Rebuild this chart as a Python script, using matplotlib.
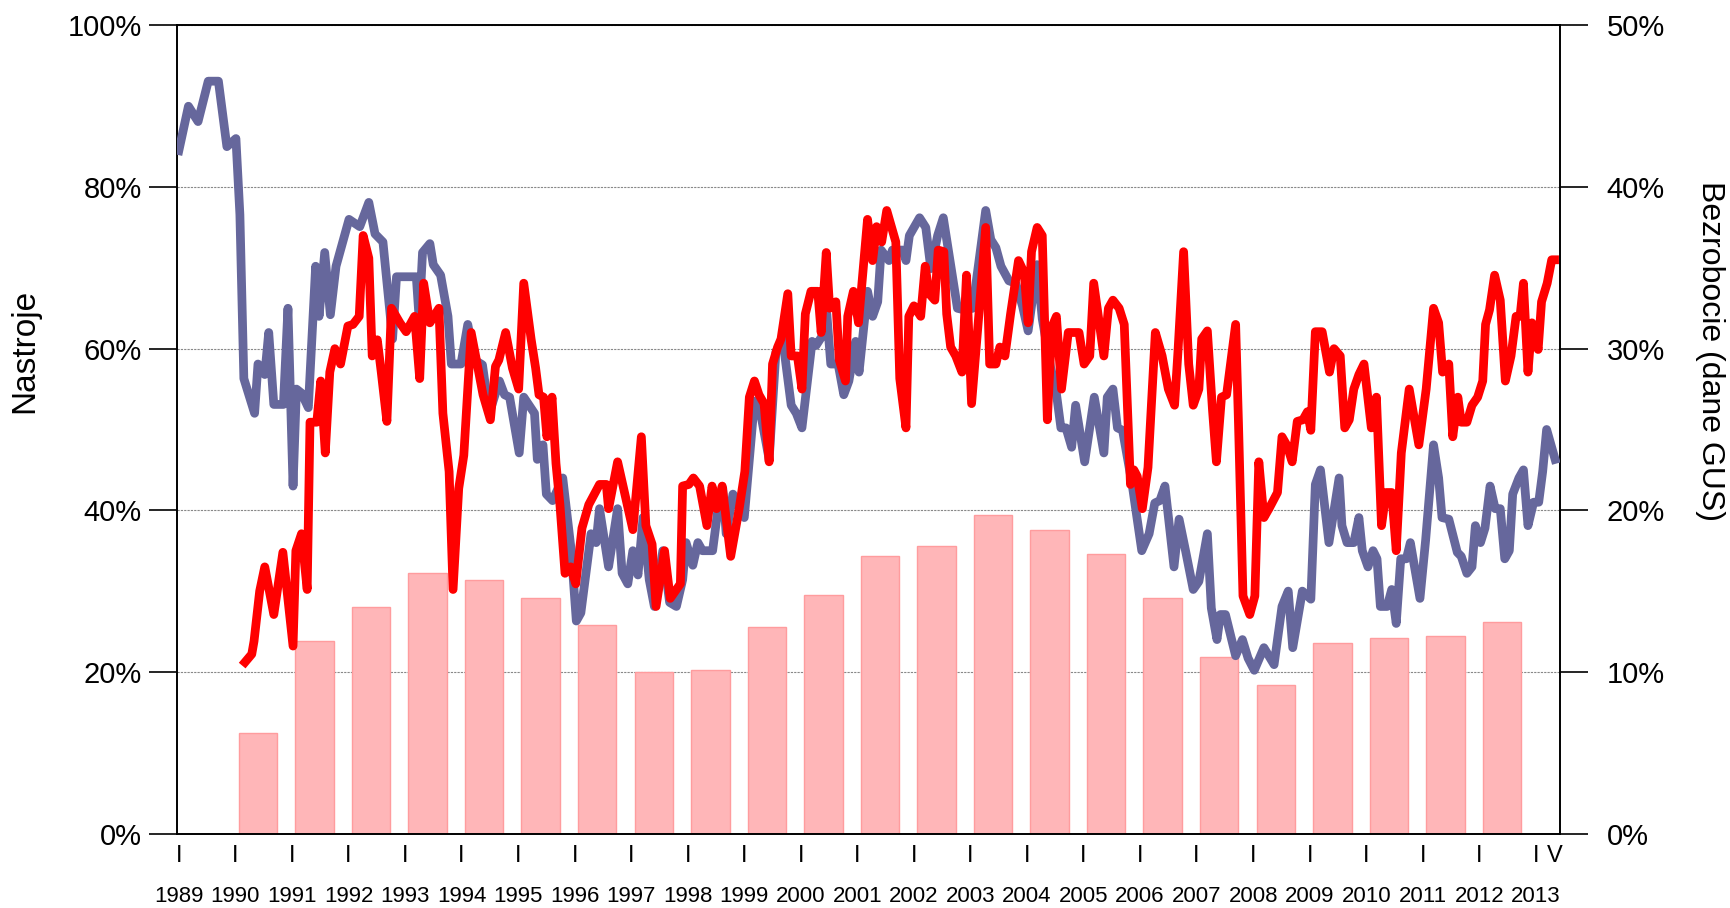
import matplotlib
matplotlib.use("Agg")
import matplotlib.pyplot as plt

# blue line (decimal year, %)
blue_t = [1989.00, 1989.17, 1989.34, 1989.52, 1989.70, 1989.85, 1990.01, 1990.08, 1990.15, 1990.34,
          1990.40, 1990.52, 1990.59, 1990.68, 1990.85, 1990.93, 1991.02, 1991.08, 1991.17, 1991.29,
          1991.42, 1991.48, 1991.58, 1991.68, 1991.78, 1992.01, 1992.20, 1992.36, 1992.47, 1992.61,
          1992.78, 1992.85, 1993.08, 1993.20, 1993.25, 1993.31, 1993.44, 1993.50, 1993.63, 1993.76,
          1993.82, 1993.99, 1994.11, 1994.23, 1994.37, 1994.49, 1994.67, 1994.76, 1994.85, 1995.02,
          1995.10, 1995.29, 1995.34, 1995.44, 1995.50, 1995.61, 1995.79, 1995.94, 1996.03, 1996.11,
          1996.29, 1996.38, 1996.44, 1996.60, 1996.76, 1996.84, 1996.94, 1997.03, 1997.12, 1997.21,
          1997.32, 1997.41, 1997.56, 1997.68, 1997.80, 1997.91, 1997.97, 1998.09, 1998.18, 1998.26,
          1998.44, 1998.53, 1998.62, 1998.68, 1998.80, 1998.90, 1999.00, 1999.18, 1999.27, 1999.44,
          1999.56, 1999.68, 1999.83, 1999.92, 2000.02, 2000.20, 2000.27, 2000.39, 2000.46, 2000.53,
          2000.66, 2000.76, 2000.85, 2000.97, 2001.03, 2001.18, 2001.27, 2001.36, 2001.42, 2001.56,
          2001.62, 2001.80, 2001.86, 2001.92, 2002.10, 2002.21, 2002.30, 2002.42, 2002.52, 2002.65,
          2002.77, 2002.89, 2003.04, 2003.27, 2003.36, 2003.45, 2003.54, 2003.68, 2003.80, 2003.92,
          2004.02, 2004.18, 2004.27, 2004.42, 2004.51, 2004.60, 2004.69, 2004.79, 2004.86, 2005.02,
          2005.19, 2005.36, 2005.42, 2005.52, 2005.60, 2005.69, 2005.86, 2006.03, 2006.16, 2006.26,
          2006.35, 2006.44, 2006.60, 2006.69, 2006.81, 2006.94, 2007.04, 2007.19, 2007.26, 2007.36,
          2007.42, 2007.51, 2007.69, 2007.81, 2007.91, 2008.02, 2008.19, 2008.37, 2008.51, 2008.62,
          2008.70, 2008.87, 2009.02, 2009.10, 2009.19, 2009.34, 2009.52, 2009.57, 2009.66, 2009.78,
          2009.87, 2009.93, 2010.03, 2010.12, 2010.19, 2010.25, 2010.37, 2010.45, 2010.53, 2010.61,
          2010.71, 2010.78, 2010.95, 2011.05, 2011.19, 2011.28, 2011.34, 2011.46, 2011.61, 2011.68,
          2011.78, 2011.87, 2011.93, 2012.02, 2012.10, 2012.19, 2012.28, 2012.37, 2012.45, 2012.53,
          2012.59, 2012.70, 2012.78, 2012.86, 2012.96, 2013.05, 2013.12, 2013.19, 2013.34]
blue_v = [84.5, 90.0, 88.1, 93.1, 93.1, 85.0, 86.0, 76.6, 56.3, 52.0,
          58.1, 56.8, 62.0, 53.1, 53.1, 65.0, 43.0, 55.0, 54.5, 52.7,
          70.2, 64.0, 71.9, 64.2, 70.2, 76.0, 75.1, 78.1, 74.2, 73.2,
          61.2, 68.9, 68.9, 68.9, 63.7, 71.9, 73.0, 70.4, 69.1, 64.0,
          58.1, 58.1, 63.0, 58.6, 58.0, 52.0, 56.0, 54.3, 54.0, 47.1,
          54.0, 52.0, 46.3, 48.1, 42.0, 41.2, 44.0, 35.0, 26.3, 27.3,
          37.1, 36.0, 40.2, 33.0, 40.2, 32.2, 30.9, 35.0, 32.0, 39.1,
          31.4, 28.1, 35.0, 28.6, 28.1, 31.4, 36.0, 33.2, 36.0, 35.0,
          35.0, 39.9, 42.7, 37.1, 42.0, 40.5, 39.1, 53.5, 52.7, 46.3,
          59.6, 61.2, 53.0, 52.0, 50.2, 60.9, 60.4, 61.7, 64.3, 58.1,
          58.1, 54.3, 56.0, 60.9, 57.1, 67.1, 64.0, 65.8, 72.2, 70.9,
          72.2, 72.2, 70.9, 74.0, 76.2, 75.0, 69.9, 74.0, 76.2, 70.4,
          65.0, 64.8, 65.0, 77.1, 73.5, 72.5, 70.2, 68.4, 68.1, 65.3,
          62.2, 70.4, 63.7, 57.6, 55.0, 50.2, 50.2, 47.8, 53.0, 46.0,
          54.0, 47.1, 54.0, 55.0, 50.2, 49.9, 43.2, 35.0, 37.1, 40.9,
          41.2, 43.0, 33.0, 38.9, 34.8, 30.2, 31.2, 37.1, 27.9, 24.0,
          27.1, 27.1, 22.0, 24.0, 21.7, 20.2, 23.0, 20.9, 28.1, 30.0,
          23.0, 30.0, 29.0, 43.2, 45.0, 36.0, 44.0, 38.1, 36.0, 36.0,
          39.1, 35.0, 33.0, 35.0, 34.0, 28.1, 28.1, 30.2, 26.0, 34.0,
          34.0, 36.0, 29.1, 36.3, 48.1, 44.0, 39.1, 38.9, 34.8, 34.3,
          32.2, 33.0, 38.1, 36.0, 37.8, 43.0, 40.2, 40.2, 34.0, 35.0,
          42.0, 44.0, 45.0, 38.1, 41.0, 41.0, 44.8, 50.0, 46.3]

# red line (decimal year, %)
red_t = [1990.17, 1990.29, 1990.33, 1990.43, 1990.52, 1990.68, 1990.84, 1991.02, 1991.07, 1991.17,
         1991.27, 1991.32, 1991.44, 1991.51, 1991.59, 1991.67, 1991.76, 1991.86, 1991.99, 1992.08,
         1992.19, 1992.26, 1992.36, 1992.42, 1992.51, 1992.58, 1992.68, 1992.76, 1992.91, 1993.02,
         1993.17, 1993.26, 1993.33, 1993.44, 1993.60, 1993.67, 1993.78, 1993.85, 1993.95, 1994.04,
         1994.17, 1994.38, 1994.51, 1994.60, 1994.66, 1994.78, 1994.90, 1995.01, 1995.10, 1995.23,
         1995.31, 1995.37, 1995.45, 1995.51, 1995.60, 1995.67, 1995.74, 1995.83, 1995.93, 1996.02,
         1996.13, 1996.25, 1996.44, 1996.56, 1996.60, 1996.76, 1997.03, 1997.18, 1997.26, 1997.37,
         1997.44, 1997.59, 1997.69, 1997.77, 1997.87, 1997.91, 1998.02, 1998.10, 1998.21, 1998.34,
         1998.43, 1998.51, 1998.61, 1998.76, 1998.91, 1999.01, 1999.09, 1999.18, 1999.26, 1999.35,
         1999.44, 1999.50, 1999.59, 1999.65, 1999.77, 1999.83, 1999.94, 2000.02, 2000.08, 2000.18,
         2000.30, 2000.36, 2000.45, 2000.51, 2000.62, 2000.68, 2000.79, 2000.83, 2000.93, 2001.02,
         2001.18, 2001.27, 2001.34, 2001.43, 2001.52, 2001.68, 2001.75, 2001.86, 2001.91, 2002.00,
         2002.12, 2002.20, 2002.27, 2002.37, 2002.43, 2002.53, 2002.58, 2002.65, 2002.74, 2002.85,
         2002.93, 2003.02, 2003.15, 2003.27, 2003.34, 2003.45, 2003.52, 2003.61, 2003.71, 2003.85,
         2003.95, 2004.02, 2004.08, 2004.18, 2004.27, 2004.36, 2004.44, 2004.52, 2004.61, 2004.73,
         2004.92, 2005.01, 2005.11, 2005.18, 2005.36, 2005.44, 2005.52, 2005.63, 2005.72, 2005.83,
         2005.89, 2005.95, 2006.04, 2006.14, 2006.27, 2006.39, 2006.50, 2006.61, 2006.67, 2006.77,
         2006.86, 2006.94, 2007.04, 2007.09, 2007.19, 2007.28, 2007.35, 2007.44, 2007.53, 2007.69,
         2007.74, 2007.82, 2007.94, 2008.03, 2008.10, 2008.19, 2008.28, 2008.43, 2008.51, 2008.60,
         2008.69, 2008.78, 2008.88, 2008.96, 2009.02, 2009.10, 2009.22, 2009.35, 2009.43, 2009.54,
         2009.62, 2009.70, 2009.78, 2009.87, 2009.96, 2010.09, 2010.18, 2010.27, 2010.35, 2010.45,
         2010.53, 2010.62, 2010.76, 2010.93, 2011.06, 2011.19, 2011.28, 2011.35, 2011.46, 2011.53,
         2011.62, 2011.68, 2011.78, 2011.87, 2011.97, 2012.06, 2012.11, 2012.18, 2012.27, 2012.37,
         2012.46, 2012.56, 2012.65, 2012.72, 2012.78, 2012.86, 2012.93, 2013.04, 2013.10, 2013.20,
         2013.28, 2013.33]
red_v = [21.2, 22.2, 23.8, 30.0, 33.0, 27.1, 34.8, 23.2, 35.0, 37.1,
         30.2, 50.9, 50.9, 56.0, 47.1, 57.1, 60.0, 58.1, 62.8, 63.0,
         64.0, 74.0, 71.2, 59.1, 61.1, 57.1, 51.0, 65.0, 63.2, 62.1,
         64.0, 56.3, 68.1, 63.2, 65.0, 52.0, 44.8, 30.2, 42.7, 46.8,
         62.0, 54.3, 51.2, 57.8, 58.6, 62.0, 57.6, 55.0, 68.1, 61.2,
         57.6, 54.3, 54.0, 49.1, 54.0, 45.8, 40.7, 32.2, 33.0, 30.9,
         37.8, 40.7, 43.2, 43.2, 40.2, 46.0, 37.6, 49.1, 38.1, 35.8,
         28.1, 35.0, 29.1, 29.9, 30.9, 43.0, 43.2, 44.0, 43.0, 38.1,
         43.0, 40.2, 43.0, 34.3, 40.2, 44.8, 54.0, 56.0, 54.3, 53.2,
         46.0, 58.1, 60.2, 61.2, 66.8, 59.1, 59.1, 55.0, 64.3, 67.1,
         67.1, 62.0, 71.9, 65.0, 65.8, 58.6, 56.0, 64.0, 67.1, 63.2,
         76.0, 70.9, 75.1, 73.2, 77.1, 73.2, 56.3, 50.2, 64.0, 65.3,
         64.0, 70.2, 66.8, 66.0, 72.2, 72.0, 64.3, 60.2, 59.1, 57.1,
         69.1, 53.2, 64.3, 75.0, 58.1, 58.1, 60.2, 59.1, 64.3, 70.9,
         69.4, 63.2, 72.0, 75.0, 74.0, 51.2, 62.7, 64.0, 55.0, 62.0,
         62.0, 58.1, 59.1, 68.1, 59.1, 65.0, 66.0, 65.0, 63.0, 43.2,
         45.0, 44.2, 40.2, 45.3, 62.0, 59.1, 55.0, 53.0, 59.6, 72.0,
         58.1, 53.0, 55.0, 61.2, 62.2, 52.5, 46.0, 54.0, 54.3, 63.0,
         50.9, 29.4, 27.1, 29.4, 46.0, 39.1, 40.2, 42.2, 49.1, 48.0,
         46.0, 51.0, 51.2, 52.2, 49.9, 62.1, 62.1, 57.1, 60.0, 59.1,
         50.2, 51.2, 55.0, 56.8, 58.1, 50.2, 54.0, 38.1, 42.2, 42.2,
         35.0, 47.1, 55.0, 48.1, 55.0, 65.0, 63.2, 57.1, 58.1, 49.1,
         54.0, 50.9, 50.9, 53.0, 54.0, 56.0, 63.0, 64.8, 69.1, 66.0,
         56.0, 59.1, 64.0, 64.0, 68.1, 57.1, 63.2, 59.9, 65.8, 68.1,
         71.0, 71.0]

# yearly unemployment bars (right axis, %)
bar_years = list(range(1990, 2013))
bar_values = [6.2, 11.9, 14.0, 16.1, 15.7, 14.6, 12.9, 10.0, 10.1, 12.8,
              14.75, 17.2, 17.8, 19.7, 18.8, 17.3, 14.6, 10.9, 9.2, 11.8,
              12.1, 12.2, 13.1]

tick_years = list(range(1989, 2014))

font = 'Liberation Sans'

fig = plt.figure(figsize=(17.31, 9.08), dpi=100)
ax2 = fig.add_axes([0.102, 0.082, 0.799, 0.890])
ax = ax2.twinx()
# bars live on the back axes, lines on the front one; swap which side each shows
ax2.yaxis.tick_right()
ax.yaxis.tick_left()
ax2.yaxis.set_label_position('right')
ax.yaxis.set_label_position('left')

ax2.bar([y + 0.4 for y in bar_years], bar_values, width=0.68,
        color='#FFB6B8', edgecolor='#FF9C9E', linewidth=1, zorder=2)
ax2.set_ylim(0, 50)
ax2.set_yticks([0, 10, 20, 30, 40, 50])
ax2.set_yticklabels(['%d%%' % v for v in [0, 10, 20, 30, 40, 50]])
ax2.set_axisbelow(True)
ax2.yaxis.grid(True, color='#888888', linestyle=(0, (2, 1)), linewidth=0.8)

ax.plot(blue_t, blue_v, color='#66679C', linewidth=6.3, solid_joinstyle='round', zorder=3)
ax.plot(red_t, red_v, color='#FF0000', linewidth=6.3, solid_joinstyle='round', zorder=4)
ax.set_ylim(0, 100)
ax.set_yticks([0, 20, 40, 60, 80, 100])
ax.set_yticklabels(['%d%%' % v for v in [0, 20, 40, 60, 80, 100]])

ax2.set_xlim(1988.96, 2013.42)
ax2.set_xticks(tick_years + [2013.33])
ax2.set_xticklabels(['I'] * len(tick_years) + ['V'], fontsize=17, family=font)
ax2.tick_params(axis='x', length=0, pad=8)
for y in tick_years:
    ax2.text(y, -0.078, str(y), transform=ax2.get_xaxis_transform(),
             ha='center', va='center', fontsize=16, family=font)

ax.tick_params(axis='y', length=20, width=1.2, direction='out', pad=5, labelsize=21)
ax2.tick_params(axis='y', length=20, width=1.2, direction='out', pad=14, labelsize=21)
for lab in ax.get_yticklabels() + ax2.get_yticklabels():
    lab.set_family(font)

for a in (ax, ax2):
    for s in a.spines.values():
        s.set_color('black')
        s.set_linewidth(1.2)

ax.set_ylabel('Nastroje', fontsize=24, family=font, va='center')
ax.yaxis.set_label_coords(-0.110, 0.597)
ax2.set_ylabel('Bezrobocie (dane GUS)', fontsize=23, family=font, rotation=270, va='center')
ax2.yaxis.set_label_coords(1.109, 0.597)

fig.savefig('out.png', dpi=100)
